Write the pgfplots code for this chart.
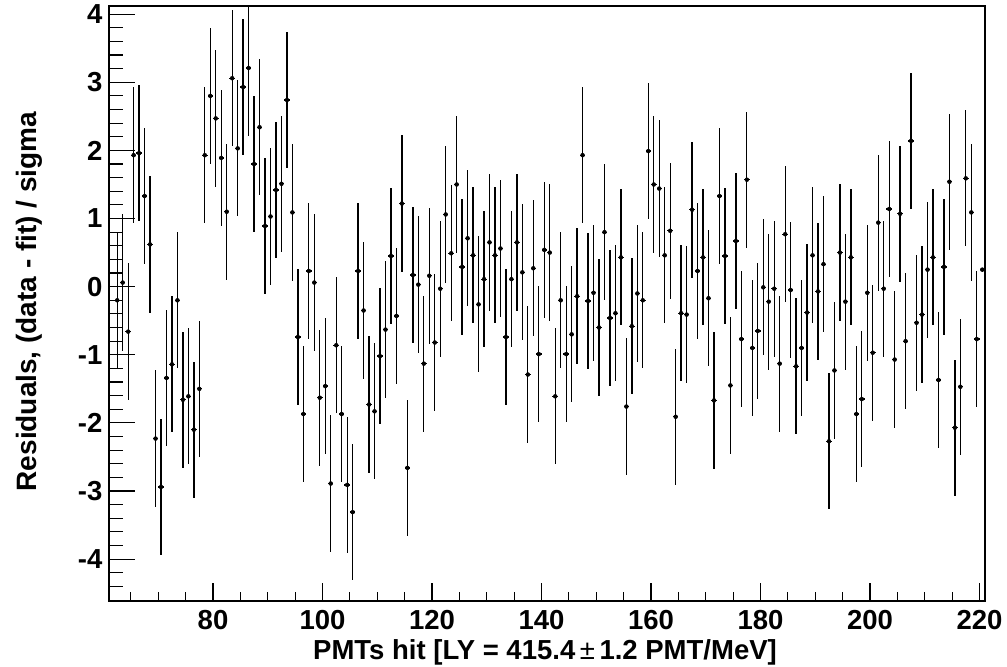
\documentclass[border=0pt]{standalone}
\usepackage{fontspec}
\setmainfont{Liberation Sans}
\usepackage{pgfplots}
\pgfplotsset{compat=1.18}
\usepackage{pgfplotstable}

\pgfplotstableread{
x y ey
62.5 -0.20 1
63.5 0.06 1
64.5 -0.66 1
65.5 1.93 1
66.5 1.96 1
67.5 1.33 1
68.5 0.62 1
69.5 -2.23 1
70.5 -2.94 1
71.5 -1.34 1
72.5 -1.14 1
73.5 -0.20 1
74.5 -1.66 1
75.5 -1.61 1
76.5 -2.10 1
77.5 -1.50 1
78.5 1.93 1
79.5 2.80 1
80.5 2.47 1
81.5 1.89 1
82.5 1.10 1
83.5 3.06 1
84.5 2.03 1
85.5 2.93 1
86.5 3.21 1
87.5 1.80 1
88.5 2.34 1
89.5 0.89 1
90.5 1.03 1
91.5 1.42 1
92.5 1.51 1
93.5 2.74 1
94.5 1.09 1
95.5 -0.74 1
96.5 -1.87 1
97.5 0.23 1
98.5 0.06 1
99.5 -1.63 1
100.5 -1.46 1
101.5 -2.89 1
102.5 -0.86 1
103.5 -1.87 1
104.5 -2.91 1
105.5 -3.31 1
106.5 0.23 1
107.5 -0.35 1
108.5 -1.73 1
109.5 -1.83 1
110.5 -1.02 1
111.5 -0.63 1
112.5 0.45 1
113.5 -0.43 1
114.5 1.22 1
115.5 -2.66 1
116.5 0.17 1
117.5 0.03 1
118.5 -1.13 1
119.5 0.16 1
120.5 -0.82 1
121.5 -0.03 1
122.5 1.06 1
123.5 0.49 1
124.5 1.50 1
125.5 0.29 1
126.5 0.71 1
127.5 0.46 1
128.5 -0.26 1
129.5 0.11 1
130.5 0.65 1
131.5 0.46 1
132.5 0.56 1
133.5 -0.74 1
134.5 0.11 1
135.5 0.65 1
136.5 0.21 1
137.5 -1.29 1
138.5 0.27 1
139.5 -0.99 1
140.5 0.54 1
141.5 0.50 1
142.5 -1.61 1
143.5 -0.20 1
144.5 -0.99 1
145.5 -0.70 1
146.5 -0.14 1
147.5 1.93 1
148.5 -0.21 1
149.5 -0.09 1
150.5 -0.60 1
151.5 0.80 1
152.5 -0.46 1
153.5 -0.39 1
154.5 0.43 1
155.5 -1.76 1
156.5 -0.58 1
157.5 -0.10 1
158.5 -0.20 1
159.5 1.99 1
160.5 1.50 1
161.5 1.44 1
162.5 0.46 1
163.5 0.82 1
164.5 -1.91 1
165.5 -0.39 1
166.5 -0.41 1
167.5 1.13 1
168.5 0.23 1
169.5 0.43 1
170.5 -0.17 1
171.5 -1.67 1
172.5 1.33 1
173.5 0.45 1
174.5 -1.45 1
175.5 0.67 1
176.5 -0.77 1
177.5 1.57 1
178.5 -0.90 1
179.5 -0.65 1
180.5 -0.01 1
181.5 -0.22 1
182.5 -0.03 1
183.5 -1.13 1
184.5 0.77 1
185.5 -0.05 1
186.5 -1.17 1
187.5 -0.90 1
188.5 -0.38 1
189.5 0.46 1
190.5 -0.07 1
191.5 0.33 1
192.5 -2.27 1
193.5 -1.23 1
194.5 0.50 1
195.5 -0.22 1
196.5 0.43 1
197.5 -1.87 1
198.5 -1.65 1
199.5 -0.09 1
200.5 -0.97 1
201.5 0.94 1
202.5 -0.03 1
203.5 1.14 1
204.5 -1.07 1
205.5 1.07 1
206.5 -0.80 1
207.5 2.14 1
208.5 -0.53 1
209.5 -0.41 1
210.5 0.25 1
211.5 0.43 1
212.5 -1.37 1
213.5 0.29 1
214.5 1.54 1
215.5 -2.07 1
216.5 -1.47 1
217.5 1.59 1
218.5 1.09 1
219.5 -0.77 1
220.5 0.25 0.03
}\resdata

\newcommand{\lblfont}{\bfseries\fontsize{27.5bp}{30bp}\selectfont}

\begin{document}
\begin{tikzpicture}
\useasboundingbox (-109bp,-66.3bp) rectangle (898bp,600.7bp);
\begin{axis}[
  scale only axis,
  width=876bp, height=594.7bp,
  at={(0,0)}, anchor=south west,
  xmin=61, xmax=221, ymin=-4.61, ymax=4.12,
  axis line style={line width=1.8bp, black},
  tick pos=left,
  tick align=inside,
  xtick={80,100,...,220},
  xticklabels={80,100,120,140,160,180,200,220},
  minor xtick={65,70,...,220},
  ytick={-4,-3,-2,-1,0,1,2,3,4},
  yticklabels={-4,-3,-2,-1,0,1,2,3,4},
  minor ytick={-4.4,-4.2,-3.8,-3.6,-3.4,-3.2,-2.8,-2.6,-2.4,-2.2,-1.8,-1.6,-1.4,-1.2,-0.8,-0.6,-0.4,-0.2,0.2,0.4,0.6,0.8,1.2,1.4,1.6,1.8,2.2,2.4,2.6,2.8,3.2,3.4,3.6,3.8},
  xtick style={line width=1.1bp, black, /pgfplots/major tick length=17.3bp, /pgfplots/minor tick length=8.3bp},
  ytick style={line width=1.1bp, black, /pgfplots/major tick length=26bp, /pgfplots/minor tick length=13.7bp},
  ticklabel style={font=\lblfont},
  x tick label style={anchor=north, inner sep=0pt, yshift=-9.3bp},
  y tick label style={anchor=east, inner sep=0pt, xshift=-6.5bp},
  clip=true,
]
\addplot[black, only marks, mark=none,
  error bars/.cd, x dir=both, x fixed=0.5, y dir=both, y explicit,
  error mark=none, error bar style={line width=1.3bp, black, solid}]
  table[x=x, y=y, y error=ey]{\resdata};
\end{axis}
\node[rotate=90, anchor=base, font=\bfseries\fontsize{28bp}{30bp}\selectfont, inner sep=0pt] at (-72bp,299.2bp) {Residuals, (data - fit) / sigma};
\node[anchor=base, font=\lblfont, inner sep=0pt] at (436bp,-58.6bp) {PMTs hit [LY = 415.4\,{\mdseries ±}\,1.2 PMT/MeV]};
\end{tikzpicture}
\end{document}
